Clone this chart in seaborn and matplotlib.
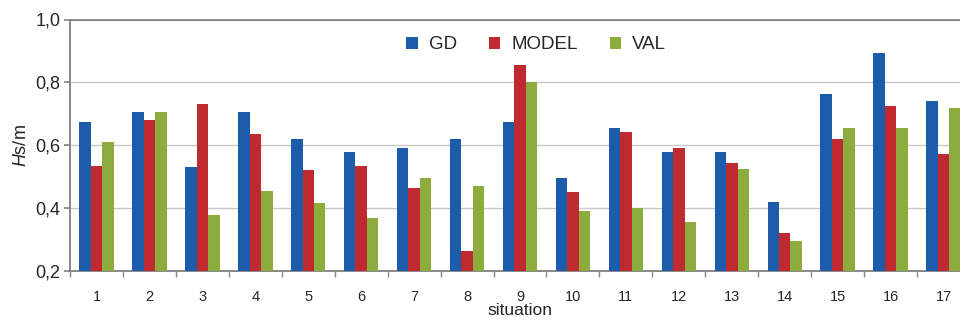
import numpy as np
import pandas as pd
import matplotlib
matplotlib.use("Agg")
import matplotlib.pyplot as plt
import seaborn as sns
from matplotlib.ticker import FixedLocator, FuncFormatter

situations = [str(i) for i in range(1, 18)]
gd = [0.675, 0.707, 0.530, 0.707, 0.620, 0.577, 0.590, 0.620, 0.675, 0.497,
      0.655, 0.577, 0.577, 0.420, 0.762, 0.895, 0.740]
model = [0.535, 0.680, 0.730, 0.637, 0.520, 0.535, 0.465, 0.265, 0.855, 0.450,
         0.642, 0.590, 0.545, 0.320, 0.620, 0.725, 0.572]
val = [0.610, 0.707, 0.377, 0.455, 0.415, 0.370, 0.497, 0.470, 0.800, 0.390,
       0.400, 0.355, 0.525, 0.295, 0.655, 0.655, 0.720]
series = ["GD", "MODEL", "VAL"]
colors = ["#1D5CAB", "#BF2A30", "#8CAD3D"]

df = pd.DataFrame({"situation": situations * 3,
                   "series": np.repeat(series, len(situations)),
                   "value": gd + model + val})

sns.set_theme(style="white")
plt.rcParams["font.family"] = ["Liberation Sans", "DejaVu Sans"]
plt.rcParams["mathtext.fontset"] = "custom"
plt.rcParams["mathtext.it"] = "Liberation Sans:italic"

fig = plt.figure(figsize=(9.6, 3.2), dpi=100)
ax = fig.add_axes([70 / 960, 1 - 271 / 320, 900 / 960, (271 - 19.5) / 320])

sns.barplot(data=df, x="situation", y="value", hue="series", palette=colors,
            width=0.65, gap=0, saturation=1, linewidth=0, ax=ax, zorder=3)

ax.set_ylim(0.2, 1.0)
ax.set_xlim(-0.5, 16.5)
ax.yaxis.set_major_locator(FixedLocator([0.2, 0.4, 0.6, 0.8, 1.0]))
ax.yaxis.set_major_formatter(FuncFormatter(lambda v, p: f"{v:.1f}".replace(".", ",")))
ax.grid(axis="y", color="#c8c8c8", linewidth=1, zorder=0)
ax.set_axisbelow(True)

ax.tick_params(axis="y", labelsize=13, length=4, color="#888888", direction="out",
               left=True, pad=3)
ax.tick_params(axis="x", which="major", labelsize=10.5, length=0, pad=14)
ax.set_xticks(np.arange(-0.5, 17, 1), minor=True)
ax.tick_params(axis="x", which="minor", length=4, color="#888888", direction="out",
               bottom=True)

for side in ["top", "left", "bottom"]:
    ax.spines[side].set_color("#808080")
    ax.spines[side].set_linewidth(1.3)
ax.spines["right"].set_visible(False)

ax.set_xlabel("situation", fontsize=12.5, labelpad=-1)
ax.set_ylabel(r"$\mathit{H}$s/m", fontsize=13, labelpad=4)

ax.legend(loc="upper center", bbox_to_anchor=(0.518, 1.0), ncol=3, frameon=False,
          fontsize=13.5, handlelength=0.6, handleheight=0.6, handletextpad=0.6,
          columnspacing=1.7, title=None)

fig.savefig("out.png", dpi=100)
